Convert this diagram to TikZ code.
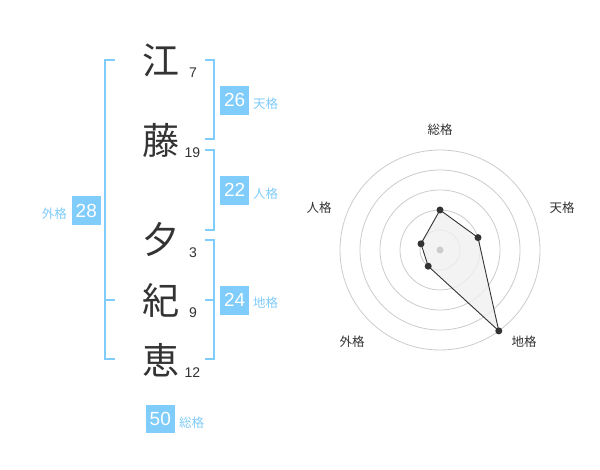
\documentclass[tikz,border=0pt]{standalone}
\usepackage{fontspec}
\setmainfont{Liberation Sans}
\newfontfamily\jpfont{Noto Sans CJK JP}
\definecolor{sky}{RGB}{128,204,250}
\definecolor{ink}{RGB}{51,51,51}
\definecolor{ring}{RGB}{204,204,204}
\definecolor{polyfill}{RGB}{240,240,240}
\tikzset{
  kanji/.style={inner sep=0pt, text=ink, font=\jpfont\fontsize{37}{37}\selectfont},
  strokes/.style={inner sep=0pt, text=ink, font=\fontsize{14}{14}\selectfont},
  scorebox/.style={fill=sky, text=white, minimum width=28.5pt, minimum height=28.5pt, inner sep=0pt, font=\fontsize{19}{19}\selectfont},
  scorelabel/.style={inner sep=0pt, text=sky, font=\jpfont\fontsize{12.5}{12.5}\selectfont},
  bracket/.style={draw=sky, line width=2pt},
  radarlabel/.style={inner sep=0pt, text=ink, font=\jpfont\fontsize{12.5}{12.5}\selectfont},
  ringline/.style={draw=ring, line width=0.8pt},
  datapt/.style={circle, fill=ink, inner sep=0pt, minimum size=7pt},
}
\begin{document}
\begin{tikzpicture}[x=1pt,y=-1pt]
\useasboundingbox[fill=white] (0,0) rectangle (600,470);
% kanji
\node[kanji] (k1) at (160.5,60) {江};
\node[kanji] (k2) at (160.5,140) {藤};
\node[kanji] (k3) at (160.5,240) {夕};
\node[kanji] (k4) at (160.5,300) {紀};
\node[kanji] (k5) at (160.5,360) {恵};
\node[strokes] (n1) at (193,72.5) {7};
\node[strokes] (n2) at (192.5,152.5) {19};
\node[strokes] (n3) at (193,252.5) {3};
\node[strokes] (n4) at (193,312.5) {9};
\node[strokes] (n5) at (192.5,372.5) {12};
% brackets
\draw[bracket] (115,60) -- (105,60) -- (105,359) -- (115,359);
\draw[bracket] (105,300) -- (115,300);
\draw[bracket] (205,60) -- (214,60) -- (214,139) -- (205,139);
\draw[bracket] (205,150) -- (214,150) -- (214,230) -- (205,230);
\draw[bracket] (205,240) -- (214,240) -- (214,359) -- (205,359);
\draw[bracket] (205,300) -- (214,300);
% score boxes
\node[scorebox] (ten) at (234.7,100.3) {26};
\node[scorelabel, anchor=west] (tenl) at (253,104) {天格};
\node[scorebox] (jin) at (234.7,190.3) {22};
\node[scorelabel, anchor=west] (jinl) at (253,194) {人格};
\node[scorebox] (chi) at (234.7,300.3) {24};
\node[scorelabel, anchor=west] (chil) at (253,302.5) {地格};
\node[scorebox] (gai) at (86.3,210.5) {28};
\node[scorelabel, anchor=east] (gail) at (67,214) {外格};
\node[scorebox] (sou) at (160.3,419) {50};
\node[scorelabel, anchor=west] (soul) at (179,422.5) {総格};
% radar
\coordinate (c) at (440,250);
\foreach \r in {20,40,60,80,100} \draw[ringline] (c) circle[radius=\r];
\coordinate (p1) at (440,210);
\coordinate (p2) at (478.0,237.6);
\coordinate (p3) at (498.8,330.9);
\coordinate (p4) at (428.2,266.2);
\coordinate (p5) at (421.0,243.8);
\filldraw[fill=polyfill, fill opacity=0.8, draw=ink, line width=0.9pt, line join=round] (p1) -- (p2) -- (p3) -- (p4) -- (p5) -- cycle;
\fill[ring] (c) circle[radius=3.5];
\foreach \p in {p1,p2,p3,p4,p5} \node[datapt] at (\p) {};
\node[radarlabel] (r1) at (440,130) {総格};
\node[radarlabel] (r2) at (562,208) {天格};
\node[radarlabel] (r3) at (524,342) {地格};
\node[radarlabel] (r4) at (352,342) {外格};
\node[radarlabel] (r5) at (319,208) {人格};
\end{tikzpicture}
\end{document}
